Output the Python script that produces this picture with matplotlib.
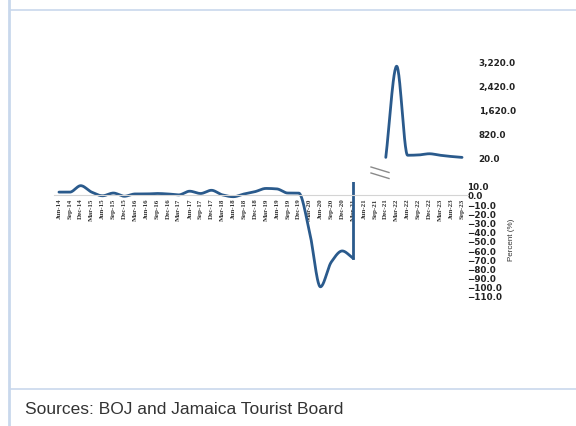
import matplotlib.pyplot as plt
import numpy as np
from matplotlib.lines import Line2D

# quarterly labels Jun-14 .. Sep-23
quarters = []
for yr in range(14, 24):
    for mon in ["Mar", "Jun", "Sep", "Dec"]:
        quarters.append(f"{mon}-{yr}")
quarters = quarters[1:-1]  # drop Mar-14 and Dec-23

# growth (%) Jun-14 .. Mar-21, drawn on the lower panel
lower_pct = [3, 3, 10, 3, -1, 2, -1.5, 1, 1, 1.5, 1, 0, 4, 1.5, 5, 0, -2, 1, 3.5,
             7, 6.5, 2, 2, -40, -100, -73, -61, -69]
# growth (%) Dec-21 .. Sep-23, drawn on the upper panel
upper_pct = [40, 3050, 110, 120, 160, 110, 70, 40]
upper_start = quarters.index("Dec-21")

lower_ticks = np.arange(10, -111, -10)
upper_ticks = [20, 820, 1620, 2420, 3220]

LINE_COL = "#2a5a8c"
FRAME_COL = "#c9d8ec"
TICK_FONT = dict(fontsize=6.3, family="DejaVu Sans", fontweight="bold", color="#222222")


def pchip(x, y, n=25):
    # monotone cubic so the curve looks smoothed without overshooting
    x = np.asarray(x, float)
    y = np.asarray(y, float)
    h = np.diff(x)
    d = np.diff(y) / h
    m = np.zeros_like(y)
    m[0], m[-1] = d[0], d[-1]
    for k in range(1, len(y) - 1):
        if d[k - 1] * d[k] > 0:
            w1 = 2 * h[k] + h[k - 1]
            w2 = h[k] + 2 * h[k - 1]
            m[k] = (w1 + w2) / (w1 / d[k - 1] + w2 / d[k])
    xs, ys = [], []
    for k in range(len(h)):
        t = np.linspace(0, 1, n, endpoint=False)
        h00 = 2 * t**3 - 3 * t**2 + 1
        h10 = t**3 - 2 * t**2 + t
        h01 = -2 * t**3 + 3 * t**2
        h11 = t**3 - t**2
        xs.append(x[k] + t * h[k])
        ys.append(h00 * y[k] + h10 * h[k] * m[k] + h01 * y[k + 1] + h11 * h[k] * m[k + 1])
    xs.append([x[-1]])
    ys.append([y[-1]])
    return np.concatenate(xs), np.concatenate(ys)


fig = plt.figure(figsize=(5.76, 4.27), dpi=100)

# frame lines around the panel
fig.add_artist(Line2D([9 / 576, 9 / 576], [0, 1], color=FRAME_COL, lw=2.0))
fig.add_artist(Line2D([10 / 576, 1], [1 - 11 / 427, 1 - 11 / 427], color=FRAME_COL, lw=1.2))
fig.add_artist(Line2D([10 / 576, 1], [1 - 390 / 427, 1 - 390 / 427], color=FRAME_COL, lw=1.2))

left = 53.5 / 576
width = 414 / 576
x = np.arange(len(quarters))

# lower panel
ax = fig.add_axes([left, 1 - 297 / 427, width, 114 / 427])
xs, ys = pchip(x[:len(lower_pct)], lower_pct)
ax.plot(xs, ys, color=LINE_COL, lw=2.0, solid_capstyle="round")
# jump from Mar-21 up towards the upper panel
last = len(lower_pct) - 1
ax.plot([x[last], x[last]], [lower_pct[-1], upper_pct[0]], color=LINE_COL, lw=2.0)
ax.set_xlim(-0.5, len(quarters) - 0.5)
ax.set_ylim(-110, 14)
for s in ["top", "right", "left"]:
    ax.spines[s].set_visible(False)
ax.spines["bottom"].set_position(("data", 0))
ax.spines["bottom"].set_color("#d4d4d4")
ax.spines["bottom"].set_linewidth(0.8)
ax.set_xticks(x)
ax.set_xticklabels(quarters, rotation=90, fontsize=5.0, family="Liberation Serif",
                   fontweight="bold", color="#333333")
ax.tick_params(axis="x", length=0, pad=2)
ax.yaxis.tick_right()
ax.set_yticks(lower_ticks)
ax.set_yticklabels([f"{v:.1f}".replace("-", "\u2212") for v in lower_ticks], **TICK_FONT)
ax.tick_params(axis="y", length=0, pad=0)
ax.yaxis.set_label_position("right")
ax.set_ylabel("Percent (%)", fontsize=5.8, family="Liberation Sans", color="#333333", labelpad=4)
ax.patch.set_alpha(0)

# upper panel
ax2 = fig.add_axes([left, 1 - 159.6 / 427, width, 103 / 427])
ux = x[upper_start:upper_start + len(upper_pct)]
xs2, ys2 = pchip(ux, upper_pct)
ax2.plot(xs2, ys2, color=LINE_COL, lw=2.0, solid_capstyle="round")
ax2.set_xlim(-0.5, len(quarters) - 0.5)
ax2.set_ylim(0, 3400)
for s in ax2.spines.values():
    s.set_visible(False)
ax2.set_xticks([])
ax2.yaxis.tick_right()
ax2.set_yticks(upper_ticks)
ax2.set_yticklabels([f"{v:,.1f}" for v in upper_ticks], **TICK_FONT)
ax2.tick_params(axis="y", length=0, pad=8)
ax2.patch.set_alpha(0)

# axis break marks
for y0 in (168, 174):
    fig.add_artist(Line2D([371 / 576, 389 / 576], [1 - y0 / 427, 1 - (y0 + 5.5) / 427],
                          color="#8a8a8a", lw=1.0))

fig.text(25 / 576, 1 - 410 / 427, "Sources: BOJ and Jamaica Tourist Board",
         fontsize=12.5, family="Liberation Sans", color="#333333", va="center")

fig.savefig("out.png", dpi=100)
